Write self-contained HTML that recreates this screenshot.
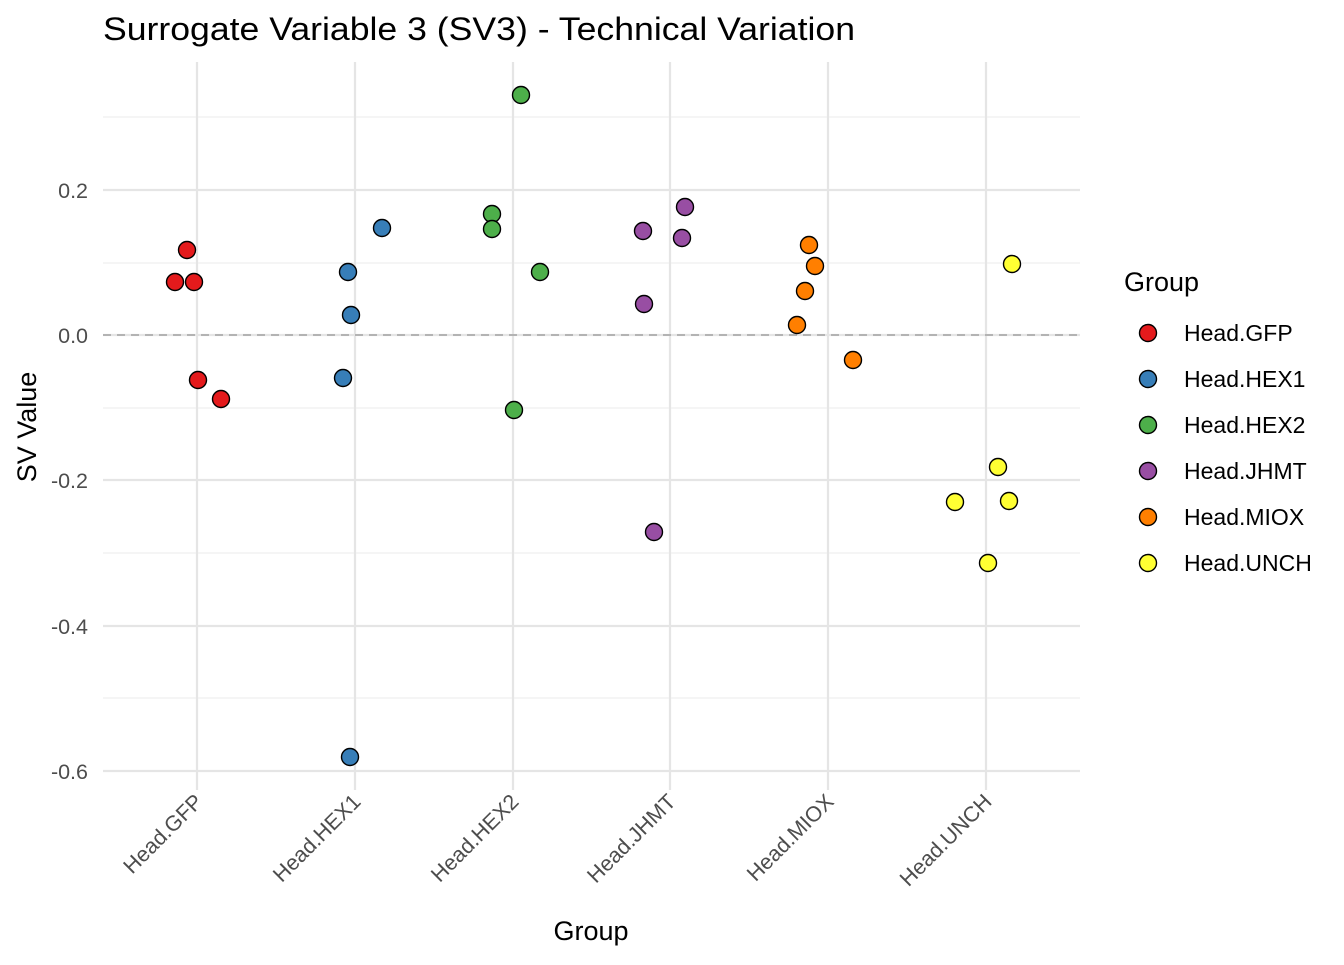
<!DOCTYPE html>
<html><head><style>body{margin:0;background:#fff}</style></head><body>
<svg width="1344" height="960" xmlns="http://www.w3.org/2000/svg" font-family="Liberation Sans, Arial, sans-serif">
<rect width="1344" height="960" fill="#fff"/>
<g stroke="#ebebeb" stroke-width="1.1">
<line x1="103" x2="1080" y1="117" y2="117"/><line x1="103" x2="1080" y1="263" y2="263"/>
<line x1="103" x2="1080" y1="408" y2="408"/><line x1="103" x2="1080" y1="553" y2="553"/>
<line x1="103" x2="1080" y1="698" y2="698"/>
</g>
<g stroke="#e5e5e5" stroke-width="2.2">
<line x1="103" x2="1080" y1="190" y2="190"/><line x1="103" x2="1080" y1="335" y2="335"/>
<line x1="103" x2="1080" y1="480" y2="480"/><line x1="103" x2="1080" y1="626" y2="626"/>
<line x1="103" x2="1080" y1="771" y2="771"/>
<line x1="197" x2="197" y1="62" y2="790"/><line x1="355" x2="355" y1="62" y2="790"/>
<line x1="513" x2="513" y1="62" y2="790"/><line x1="670" x2="670" y1="62" y2="790"/>
<line x1="828" x2="828" y1="62" y2="790"/><line x1="986" x2="986" y1="62" y2="790"/>
</g>
<line x1="103" x2="1080" y1="335" y2="335" stroke="#b3b3b3" stroke-width="2" stroke-dasharray="8,6"/>
<g stroke="#000" stroke-width="1.4">
<g fill="#e41a1c"><circle cx="187" cy="250" r="8.5"/><circle cx="175" cy="282" r="8.5"/><circle cx="194" cy="282" r="8.5"/><circle cx="198" cy="380" r="8.5"/><circle cx="221" cy="399" r="8.5"/></g>
<g fill="#377eb8"><circle cx="382" cy="228" r="8.5"/><circle cx="348" cy="272" r="8.5"/><circle cx="351" cy="315" r="8.5"/><circle cx="343" cy="378" r="8.5"/><circle cx="350" cy="757" r="8.5"/></g>
<g fill="#4daf4a"><circle cx="521" cy="95" r="8.5"/><circle cx="492" cy="214" r="8.5"/><circle cx="492" cy="229" r="8.5"/><circle cx="540" cy="272" r="8.5"/><circle cx="514" cy="410" r="8.5"/></g>
<g fill="#984ea3"><circle cx="685" cy="207" r="8.5"/><circle cx="643" cy="231" r="8.5"/><circle cx="682" cy="238" r="8.5"/><circle cx="644" cy="304" r="8.5"/><circle cx="654" cy="532" r="8.5"/></g>
<g fill="#ff7f00"><circle cx="809" cy="245" r="8.5"/><circle cx="815" cy="266" r="8.5"/><circle cx="805" cy="291" r="8.5"/><circle cx="797" cy="325" r="8.5"/><circle cx="853" cy="360" r="8.5"/></g>
<g fill="#ffff33"><circle cx="1012" cy="264" r="8.5"/><circle cx="998" cy="467" r="8.5"/><circle cx="955" cy="502" r="8.5"/><circle cx="1009" cy="501" r="8.5"/><circle cx="988" cy="563" r="8.5"/></g>
</g>
<g font-size="21.5" fill="#4d4d4d" text-anchor="end">
<text x="88" y="198">0.2</text><text x="88" y="343">0.0</text><text x="88" y="488">-0.2</text><text x="88" y="634">-0.4</text><text x="88" y="779">-0.6</text>
</g>
<g font-size="21.5" fill="#4d4d4d" text-anchor="end">
<text transform="translate(204,803) rotate(-45)">Head.GFP</text>
<text transform="translate(362,803) rotate(-45)">Head.HEX1</text>
<text transform="translate(520,803) rotate(-45)">Head.HEX2</text>
<text transform="translate(677,803) rotate(-45)">Head.JHMT</text>
<text transform="translate(835,803) rotate(-45)">Head.MIOX</text>
<text transform="translate(993,803) rotate(-45)">Head.UNCH</text>
</g>
<text x="591" y="940" font-size="27" text-anchor="middle">Group</text>
<text transform="translate(36,427) rotate(-90)" font-size="27" text-anchor="middle">SV Value</text>
<text x="103" y="40" font-size="32" textLength="752" lengthAdjust="spacingAndGlyphs">Surrogate Variable 3 (SV3) - Technical Variation</text>
<text x="1124" y="291" font-size="27">Group</text>
<g stroke="#000" stroke-width="1.4">
<circle cx="1148" cy="333" r="8.5" fill="#e41a1c"/><circle cx="1148" cy="379" r="8.5" fill="#377eb8"/>
<circle cx="1148" cy="425" r="8.5" fill="#4daf4a"/><circle cx="1148" cy="471" r="8.5" fill="#984ea3"/>
<circle cx="1148" cy="517" r="8.5" fill="#ff7f00"/><circle cx="1148" cy="563" r="8.5" fill="#ffff33"/>
</g>
<g font-size="23">
<text x="1184" y="341">Head.GFP</text><text x="1184" y="387">Head.HEX1</text><text x="1184" y="433">Head.HEX2</text>
<text x="1184" y="479">Head.JHMT</text><text x="1184" y="525">Head.MIOX</text><text x="1184" y="571">Head.UNCH</text>
</g>
</svg>
</body></html>
